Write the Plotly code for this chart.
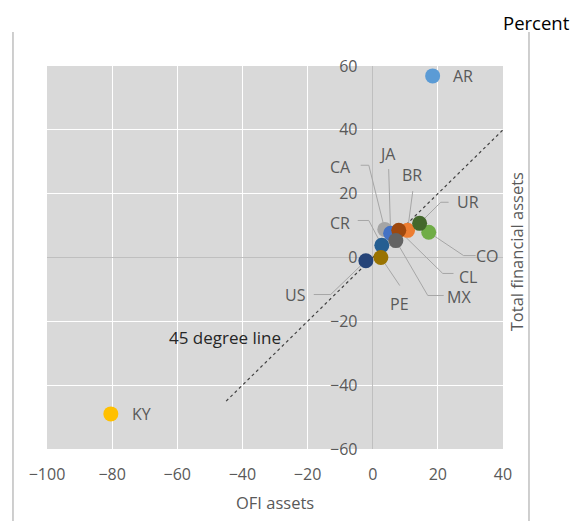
import plotly.graph_objects as go

# ---- data ----
countries = ["AR", "BR", "CA", "KY", "JA", "CO", "CR", "CL", "MX", "PE", "US", "UR"]
ofi_assets = [18.4, 10.7, 3.7, -80.4, 5.5, 17.2, 2.8, 8.0, 7.1, 2.5, -2.1, 14.4]
total_fin_assets = [56.9, 8.5, 8.8, -49.0, 7.6, 7.9, 3.8, 8.5, 5.3, 0.0, -1.0, 10.7]
colors = ["#5B9BD5", "#ED7D31", "#A5A5A5", "#FFC000", "#4472C4", "#70AD47",
          "#255E91", "#9E480E", "#636363", "#997300", "#264478", "#43682B"]

# label positions (data units) and leader line geometry
label_x = [27.6, 12.0, -9.8, -70.9, 4.6, 35.3, -10.1, 29.4, 26.4, 8.3, -23.6, 29.1]
label_y = [56.9, 25.8, 28.3, -49.0, 32.4, 0.6, 10.7, -6.0, -12.3, -14.5, -11.9, 17.3]
lead_end_x = [None, 12.3, -3.7, None, 4.9, 31.6, -4.6, 24.8, 21.8, 8.3, -18.1, 23.3]
lead_end_y = [None, 20.8, 28.9, None, 27.7, 0.6, 11.6, -5.0, -11.9, -8.8, -11.6, 17.3]
elbow_x = [None, None, -1.2, None, None, 27.9, -1.2, 21.5, 16.9, None, -12.9, 20.9]
elbow_y = [None, None, 28.9, None, None, 0.6, 11.6, -5.0, -11.9, None, -11.6, 17.3]

line45_x = [-45, 40]
line45_y = [-45, 40]

x_ticks = [-100, -80, -60, -40, -20, 0, 20, 40]
y_ticks = [-60, -40, -20, 0, 20, 40, 60]

FONT = "Open Sans"
GREY_TXT = "#595959"

fig = go.Figure()

# leader lines
lx, ly = [], []
for i in range(len(countries)):
    if lead_end_x[i] is None:
        continue
    lx.append(lead_end_x[i]); ly.append(lead_end_y[i])
    if elbow_x[i] is not None:
        lx.append(elbow_x[i]); ly.append(elbow_y[i])
    lx.append(ofi_assets[i]); ly.append(total_fin_assets[i])
    lx.append(None); ly.append(None)
fig.add_trace(go.Scatter(x=lx, y=ly, mode="lines",
                         line=dict(color="#A6A6A6", width=1),
                         hoverinfo="skip", showlegend=False))

# 45 degree line
fig.add_trace(go.Scatter(x=line45_x, y=line45_y, mode="lines",
                         line=dict(color="#404040", width=1.2, dash="dot"),
                         hoverinfo="skip", showlegend=False))

# points
for i, c in enumerate(countries):
    fig.add_trace(go.Scatter(x=[ofi_assets[i]], y=[total_fin_assets[i]],
                             mode="markers", name=c,
                             marker=dict(size=15, color=colors[i], line=dict(width=0)),
                             showlegend=False))

# data labels
for i, c in enumerate(countries):
    fig.add_annotation(x=label_x[i], y=label_y[i], text=c, showarrow=False,
                       font=dict(family=FONT, size=16, color=GREY_TXT),
                       xanchor="center", yanchor="middle")

fig.add_annotation(x=-45.4, y=-25.2, text="45 degree line", showarrow=False,
                   font=dict(family=FONT, size=17, color="#262626"),
                   xanchor="center", yanchor="middle")

# axis titles
fig.add_annotation(xref="paper", yref="paper", x=0.5, y=-0.14,
                   text="OFI assets", showarrow=False,
                   font=dict(family=FONT, size=16.5, color=GREY_TXT),
                   xanchor="center", yanchor="middle")
fig.add_annotation(xref="paper", yref="paper", x=1.0, xshift=0, y=0.515,
                   text="Total financial assets", showarrow=False, textangle=-90,
                   font=dict(family=FONT, size=16.5, color=GREY_TXT),
                   xanchor="left", yanchor="middle")
fig.add_annotation(xref="paper", yref="paper", x=1.0, xshift=-2, y=1.0, yshift=44,
                   text="Percent", showarrow=False,
                   font=dict(family=FONT, size=18.5, color="#000000"),
                   xanchor="left", yanchor="middle")

# frame vertical lines
for xp in [-0.0746, 1.0570]:
    fig.add_shape(type="line", xref="paper", yref="paper",
                  x0=xp, x1=xp, y0=-0.19, y1=1.089,
                  line=dict(color="#BFBFBF", width=1.5))

# page body has an 8px margin, so the figure is drawn 8px smaller with
# margins reduced by 8px on the left/top
fig.update_layout(
    width=575, height=513,
    margin=dict(l=39, r=80, t=58, b=72),
    paper_bgcolor="white", plot_bgcolor="#D9D9D9",
    font=dict(family=FONT, size=16, color=GREY_TXT),
    showlegend=False,
    xaxis=dict(range=[-100, 40], tickvals=x_ticks, showgrid=True,
               gridcolor="white", gridwidth=1.2,
               zeroline=True, zerolinecolor="#BFBFBF", zerolinewidth=1,
               ticks="outside", ticklen=11, tickcolor="rgba(0,0,0,0)",
               showline=False, tickfont=dict(size=16, color=GREY_TXT)),
    yaxis=dict(range=[-60, 60], tickvals=y_ticks, showgrid=True,
               gridcolor="white", gridwidth=1.2,
               zeroline=True, zerolinecolor="#BFBFBF", zerolinewidth=1,
               anchor="free", position=100 / 140, side="left",
               ticks="outside", ticklen=12, tickcolor="rgba(0,0,0,0)",
               showline=False, tickfont=dict(size=16, color=GREY_TXT)),
)

fig.write_html("out.html")
